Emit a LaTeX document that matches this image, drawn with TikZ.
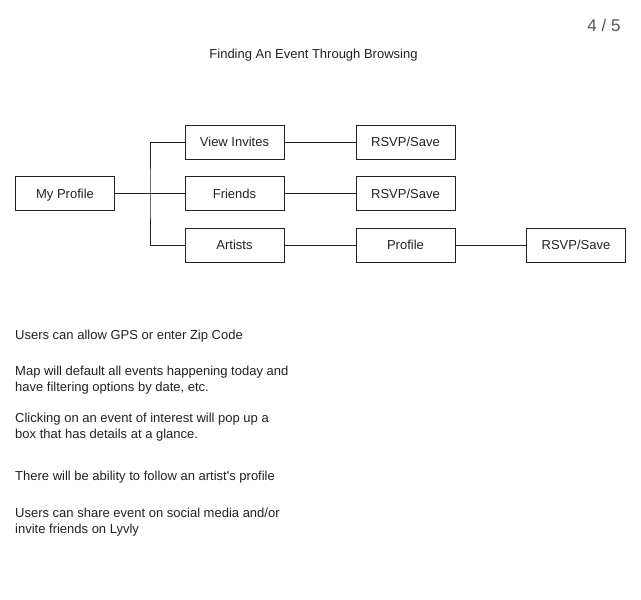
\documentclass[tikz,border=0pt]{standalone}
\usepackage{fontspec}
\setmainfont{Liberation Sans}
\definecolor{ink}{HTML}{222222}
\definecolor{pagenum}{HTML}{555555}
\tikzset{
  box/.style={draw=ink, line width=1pt, minimum width=99pt, minimum height=34pt, inner sep=0pt, text height=9.3pt, text depth=0pt, text=ink, font=\fontsize{13}{16}\selectfont},
  link/.style={draw=ink, line width=1pt},
  note/.style={anchor=north west, align=left, inner sep=0pt, text=ink, font=\fontsize{13}{16}\selectfont}
}
\begin{document}
\begin{tikzpicture}[x=1pt,y=-1pt]

            \useasboundingbox[fill=white] (0,0) rectangle (641,600);

            \node[text=pagenum, font=\fontsize{17}{20}\selectfont] (page) at (604,25) {4 / 5};
            \node[text=ink, font=\fontsize{13}{16}\selectfont] (title) at (313.5,55) {Finding An Event Through Browsing};

            \node[box] (me) at (65,193.5) {My Profile};
            \node[box] (invites) at (234.5,142) {View Invites};
            \node[box] (friends) at (234.5,193.5) {Friends};
            \node[box] (artists) at (234.5,245) {Artists};
            \node[box] (rsvpA) at (405.5,142) {RSVP/Save};
            \node[box] (rsvpB) at (405.5,193.5) {RSVP/Save};
            \node[box] (profile) at (405.5,245) {Profile};
            \node[box] (rsvpC) at (576,245) {RSVP/Save};

            \coordinate (bus) at (150,193.5);
            \draw[link] (me) -- (friends);
            \draw[link] (invites.west) -| (bus) |- (artists.west);
            \draw[link] (invites) -- (rsvpA);
            \draw[link] (friends) -- (rsvpB);
            \draw[link] (artists) -- (profile);
            \draw[link] (profile) -- (rsvpC);

            \node[note] (gps) at (15,329.5) {Users can allow GPS or enter Zip Code};
            \node[note] (map) at (15,365.5) {Map will default all events happening today and\\have filtering options by date, etc.};
            \node[note] (click) at (15,412.5) {Clicking on an event of interest will pop up a\\box that has details at a glance.};
            \node[note] (follow) at (15,470.5) {There will be ability to follow an artist\textquotesingle s profile};
            \node[note] (share) at (15,507.5) {Users can share event on social media and/or\\invite friends on Lyvly};

        \end{tikzpicture}
\end{document}
